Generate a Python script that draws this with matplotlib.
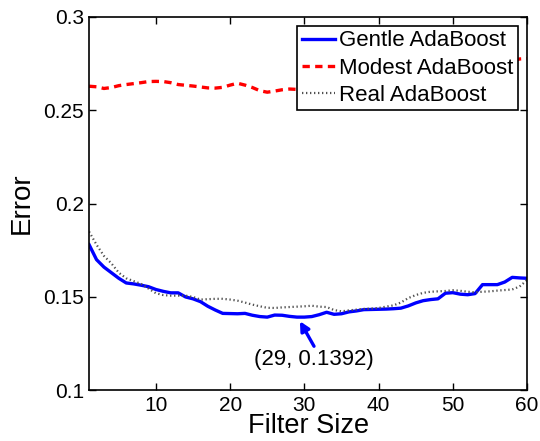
import numpy as np
from matplotlib import pyplot as plt

filter_size = np.arange(1, 61)

gentle = [0.178, 0.170, 0.166, 0.163, 0.160, 0.1575, 0.157, 0.1563, 0.1555, 0.154,
          0.153, 0.1522, 0.1522, 0.150, 0.149, 0.1475, 0.145, 0.143, 0.1412, 0.1411,
          0.141, 0.1412, 0.1402, 0.1395, 0.1392, 0.1403, 0.1402, 0.1396, 0.1392, 0.1392,
          0.1395, 0.1405, 0.1418, 0.1407, 0.141, 0.142, 0.1425, 0.1432, 0.1433, 0.1434,
          0.1435, 0.1437, 0.144, 0.1452, 0.1468, 0.148, 0.1486, 0.149, 0.152, 0.1523,
          0.1515, 0.1512, 0.1518, 0.1566, 0.1566, 0.1566, 0.158, 0.1605, 0.1602, 0.160]

modest = [0.2629, 0.2626, 0.2617, 0.2622, 0.2632, 0.2638, 0.2643, 0.2648, 0.2654, 0.2655,
          0.2654, 0.2648, 0.2638, 0.2634, 0.263, 0.2625, 0.262, 0.2619, 0.2623, 0.2635,
          0.2645, 0.2635, 0.2622, 0.2605, 0.2597, 0.2603, 0.261, 0.2614, 0.2612, 0.2615,
          0.262, 0.2625, 0.263, 0.2632, 0.2638, 0.264, 0.2645, 0.265, 0.2655, 0.266,
          0.2662, 0.2668, 0.267, 0.2675, 0.268, 0.2685, 0.269, 0.2695, 0.27, 0.2705,
          0.271, 0.2718, 0.2725, 0.273, 0.2738, 0.2745, 0.2755, 0.2765, 0.2775, 0.2777]

real = [0.185, 0.178, 0.172, 0.168, 0.163, 0.160, 0.1585, 0.157, 0.1545, 0.152,
        0.151, 0.1507, 0.1507, 0.1507, 0.150, 0.1486, 0.1488, 0.149, 0.149, 0.1486,
        0.148, 0.147, 0.1459, 0.145, 0.1442, 0.1441, 0.1444, 0.1446, 0.1448, 0.145,
        0.1453, 0.1448, 0.1446, 0.143, 0.1423, 0.1428, 0.1432, 0.1436, 0.1438, 0.1441,
        0.1448, 0.1455, 0.147, 0.1494, 0.151, 0.1522, 0.1528, 0.153, 0.1532, 0.1536,
        0.1533, 0.1528, 0.1525, 0.1528, 0.153, 0.1534, 0.1537, 0.154, 0.1556, 0.159]

min_x, min_y = 29, 0.1392

plt.rcParams['font.family'] = ['Liberation Sans', 'DejaVu Sans']

fig = plt.figure(figsize=(5.4, 4.41), dpi=100)
ax = fig.add_axes([0.165, 0.115, 0.811, 0.8465])

ax.plot(filter_size, gentle, color='#0000ff', lw=2.4, label='Gentle AdaBoost')
ax.plot(filter_size, modest, color='#ff0000', lw=2.4, ls=(0, (2.2, 1.6)), label='Modest AdaBoost')
ax.plot(filter_size, real, color='#505050', lw=1.6, ls=(0, (0.6, 1.2)), label='Real AdaBoost')

# arrow pointing at the minimum of the Gentle curve, label underneath
ax.annotate('', xy=(min_x + 0.4, min_y - 0.0022), xytext=(min_x + 2.3, min_y - 0.0156),
            arrowprops=dict(arrowstyle='-|>,head_length=0.55,head_width=0.28',
                            color='#0000ff', lw=2.4, shrinkA=0, shrinkB=0))
ax.text(min_x + 2.3, 0.1165, '(%d, %.4f)' % (min_x, min_y), ha='center', va='center',
        fontsize=16)

ax.set_xlim(1, 60)
ax.set_ylim(0.1, 0.3)
ax.set_xticks([10, 20, 30, 40, 50, 60])
ax.set_yticks([0.1, 0.15, 0.2, 0.25, 0.3])
ax.set_yticklabels(['0.1', '0.15', '0.2', '0.25', '0.3'])
ax.tick_params(direction='in', top=True, right=True, labelsize=15, length=5, width=1)
ax.tick_params(axis='x', pad=4)
for s in ax.spines.values():
    s.set_linewidth(1.2)

ax.set_xlabel('Filter Size', fontsize=19.5, labelpad=-1)
ax.set_ylabel('Error', fontsize=20, labelpad=6)

leg = ax.legend(loc='upper right', fontsize=16, frameon=True, fancybox=False,
                framealpha=1, edgecolor='black', handlelength=1.5, handletextpad=0.2,
                borderpad=0.2, labelspacing=0.28, borderaxespad=0.4)
leg.get_frame().set_linewidth(1.2)

fig.savefig('out.png', dpi=100)
